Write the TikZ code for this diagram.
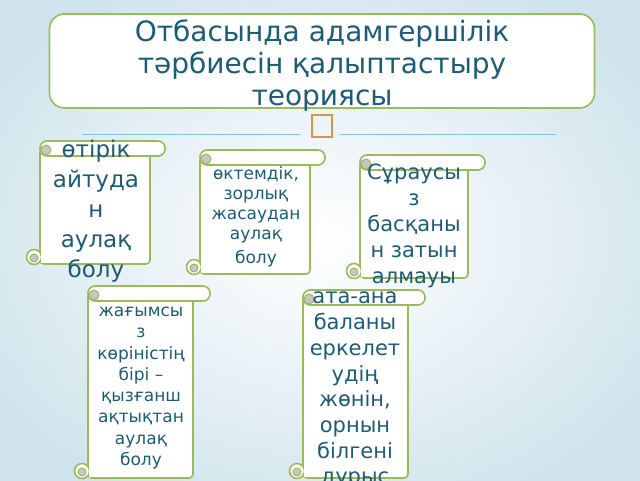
\documentclass[tikz,border=0pt]{standalone}
\usepackage{fontspec}
\setmainfont{DejaVu Sans}
\definecolor{scrollgreen}{HTML}{9BBB59}
\definecolor{textteal}{HTML}{1D5C78}
\definecolor{bgblue}{HTML}{CFE3EC}
\definecolor{linkblue}{HTML}{7FC6E0}
\definecolor{boxorange}{HTML}{D9954A}
\tikzset{
  edge/.style={draw=scrollgreen, line width=1.6pt},
  paper/.style={edge, fill=white},
  curl/.style={draw=scrollgreen, line width=1pt, fill=gray!45},
  label/.style={text=textteal, align=center, inner sep=0pt}
}
% scroll: left, top, right of body, bottom, right end of the top bar
\newcommand{\scrollbox}[5]{%
  \path[paper, rounded corners=4pt] (#1,#2+7) rectangle (#3,#4);
  \path[paper, rounded corners=7pt] (#1,#2) rectangle (#5,#2+15);
  \path[curl] (#1+6,#2+9) circle (5);
  \path[paper] (#1-6,#4-7) circle (7.5);
  \path[curl] (#1-6,#4-6) circle (4);
  \path[paper, draw=none] (#1+1,#4-14) rectangle (#1+8,#4-1);
}
\begin{document}
\begin{tikzpicture}[x=1pt, y=-1pt]
\useasboundingbox (0,0) rectangle (640,480);
\clip (0,0) rectangle (640,480);
\shade[inner color=white, outer color=bgblue] (-80,-60) rectangle (720,540);

% title
\node[paper, rounded corners=15pt, minimum width=545pt, minimum height=94pt,
  inner sep=0pt] (title) at (322,61) {};
\node[label, font=\fontsize{28}{32}\selectfont] (titletext) at (322,66)
  {Отбасында адамгершілік\\тәрбиесін қалыптастыру\\теориясы};

\draw[linkblue, line width=0.6pt] (82,134) -- (300,134);
\draw[linkblue, line width=0.6pt] (340,134) -- (556,134);
\node[draw=boxorange, line width=1.5pt, minimum width=20pt, minimum height=22pt,
  inner sep=0pt] (mark) at (322,126) {};

% scrolls
\scrollbox{40}{141}{150}{264}{165}
\node[label, font=\fontsize{23}{30}\selectfont] (lie) at (96,211)
  {өтірік\\айтуда\\н\\аулақ\\болу};

\scrollbox{200}{150}{310}{274}{325}
\node[label, font=\fontsize{17}{20}\selectfont] (force) at (256,217)
  {өктемдік,\\зорлық\\жасаудан\\аулақ\\[4pt]болу};

\scrollbox{360}{155}{468}{278}{485}
\node[label, font=\fontsize{21}{26}\selectfont] (ask) at (414,226)
  {Сұраусы\\з\\басқаны\\н затын\\алмауы};

\scrollbox{88}{286}{193}{478}{210}
\node[label, font=\fontsize{17}{21.3}\selectfont] (envy) at (141,388)
  {жағымсы\\з\\көріністің\\бірі –\\қызғанш\\ақтықтан\\аулақ\\болу};

\scrollbox{303}{290}{408}{478}{425}
\node[label, font=\fontsize{21}{25.7}\selectfont, anchor=north] (parent) at (355,292)
  {ата-ана\\баланы\\еркелет\\удің\\жөнін,\\орнын\\білгені\\дұрыс};
\end{tikzpicture}
\end{document}
